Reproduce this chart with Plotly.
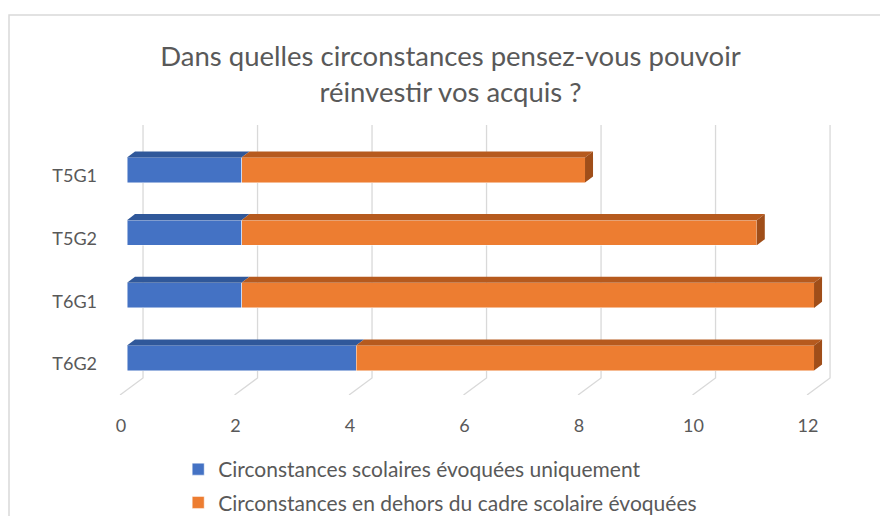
import plotly.graph_objects as go

groupes = ["T5G1", "T5G2", "T6G1", "T6G2"]
scolaires = [2, 2, 2, 4]
hors_cadre = [6, 9, 10, 8]
x_ticks = [0, 2, 4, 6, 8, 10, 12]

noms = ["Circonstances scolaires évoquées uniquement",
        "Circonstances en dehors du cadre scolaire évoquées"]

gris = "#595959"
police = "Lato"

# position des barres (T5G1 en haut)
pos = list(range(len(groupes)))[::-1]

# effet 3D : profondeur en unites d'axe
ep = 0.2      # demi-epaisseur des barres
dx = 0.14     # decalage horizontal de la face du dessus
dy = 0.096    # hauteur de la face du dessus

ymin, ymax = -0.59, 3.718

fig = go.Figure()

fig.add_trace(go.Bar(y=pos, x=scolaires, orientation="h", width=2 * ep,
                     marker=dict(color="#4472C4", line=dict(color="rgba(255,255,255,0.6)", width=0.8)),
                     name=noms[0], legendgroup="a"))
fig.add_trace(go.Bar(y=pos, x=hors_cadre, orientation="h", width=2 * ep,
                     marker=dict(color="#ED7D31", line=dict(color="rgba(255,255,255,0.6)", width=0.8)),
                     name=noms[1], legendgroup="b"))

# faces du dessus et face laterale
for p, a, b in zip(pos, scolaires, hors_cadre):
    haut = p + ep
    for x0, x1, c in [(0, a, "#30589A"), (a, a + b, "#B65A1E")]:
        fig.add_trace(go.Scatter(x=[x0, x1, x1 + dx, x0 + dx, x0],
                                 y=[haut, haut, haut + dy, haut + dy, haut],
                                 fill="toself", fillcolor=c, mode="lines",
                                 line=dict(width=0), showlegend=False, hoverinfo="skip"))
    fin = a + b
    fig.add_trace(go.Scatter(x=[fin, fin + dx, fin + dx, fin, fin],
                             y=[p - ep, p - ep + dy, haut + dy, haut, p - ep],
                             fill="toself", fillcolor="#A04E19", mode="lines",
                             line=dict(width=0), showlegend=False, hoverinfo="skip"))

# quadrillage sur le mur du fond + plancher
formes = []
for v in x_ticks:
    formes.append(dict(type="path", xref="x", yref="y", layer="below",
                       path=f"M {v + 0.28},{ymax} L {v + 0.28},-0.319 L {v - 0.122},{ymin}",
                       line=dict(color="#D9D9D9", width=1.3)))
# cadre du graphique
formes.append(dict(type="rect", xref="paper", yref="paper", x0=-0.1452, x1=1.3, y0=-0.7, y1=1.407,
                   line=dict(color="#D9D9D9", width=1.5), fillcolor="rgba(0,0,0,0)"))

fig.update_layout(
    width=880, height=516,
    barmode="stack",
    title=dict(text="Dans quelles circonstances pensez-vous pouvoir<br>réinvestir vos acquis ?",
               font=dict(family=police, size=27.5, color=gris),
               x=0.512, xanchor="center", xref="container",
               y=1 - 66 / 516, yanchor="top", yref="container"),
    xaxis=dict(range=[-0.2096, 12.541], tickvals=x_ticks, showgrid=False, zeroline=False,
               showline=False, ticks="", ticklabelshift=-6, ticklabelstandoff=18,
               tickfont=dict(family=police, size=18, color=gris)),
    yaxis=dict(range=[ymin, ymax], tickvals=pos, ticktext=groupes, showgrid=False,
               zeroline=False, showline=False, ticks="", ticklabelstandoff=17,
               ticklabelshift=6, tickfont=dict(family=police, size=18, color=gris)),
    legend=dict(orientation="v", xref="container", yref="container", x=0.2025, xanchor="left",
                y=1 - 449 / 516, yanchor="top", traceorder="grouped", tracegroupgap=3,
                font=dict(family=police, size=21, color=gris)),
    shapes=formes,
    margin=dict(l=115, r=35, t=125, b=121, autoexpand=False),
    paper_bgcolor="white",
    plot_bgcolor="white",
)

fig.write_html("out.html", config={"displayModeBar": False},
               post_script="document.body.style.margin='0';")
